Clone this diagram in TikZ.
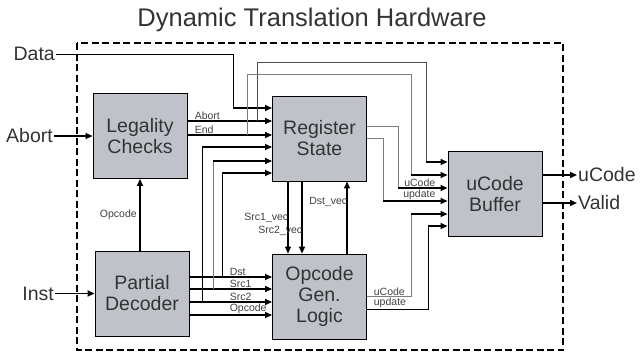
\documentclass[tikz,border=0pt]{standalone}
\usepackage{fontspec}
\setmainfont{Liberation Sans}
\usetikzlibrary{arrows.meta}
\definecolor{boxgray}{RGB}{192,194,201}
\definecolor{wiregray}{RGB}{125,125,125}
\definecolor{wiredark}{RGB}{75,75,75}

\begin{document}
\begin{tikzpicture}[x=1pt, y=-1pt,
    box/.style={draw, line width=0.9pt, fill=boxgray, minimum width=94pt, minimum height=85pt, align=center, text=black!80, font=\fontsize{19.5}{21}\selectfont},
    io/.style={font=\fontsize{19.5}{21}\selectfont, text=black!80, inner sep=1pt},
    lab/.style={font=\fontsize{10.5}{12}\selectfont, text=black!75, inner sep=0.5pt},
    bus/.style={-{Triangle[length=7pt,width=6pt]}, line width=1.6pt},
    wire/.style={line width=0.9pt}]
    \useasboundingbox (0,0) rectangle (641,354);
    \node[font=\fontsize{25.5}{28}\selectfont, text=black!80, anchor=base] (title) at (312,26) {Dynamic Translation Hardware};
    \draw[line width=2pt, dash pattern=on 7pt off 3.5pt] (77,43) rectangle (563,350);

    % blocks
    \node[box] (legal) at (140,136) {Legality\\Checks};
    \node[box] (regs) at (319.5,138.5) {Register\\State};
    \node[box] (decoder) at (142,293.5) {Partial\\Decoder};
    \node[box] (opgen) at (319.5,296.5) {Opcode\\Gen.\\Logic};
    \node[box] (buffer) at (495,194) {uCode\\Buffer};

    % outside signals
    \node[io, anchor=east] (data) at (56,54) {Data};
    \node[io, anchor=east] (abortin) at (54,136) {Abort};
    \node[io, anchor=east] (inst) at (55,293.5) {Inst};
    \node[io, anchor=west] (ucodeout) at (577,175) {uCode};
    \node[io, anchor=west] (validout) at (577,203) {Valid};

    \coordinate (datadrop) at (233,108);
    \draw[wire] (data) -| (datadrop);
    \draw[bus] (datadrop) -- (datadrop -| regs.west);
    \draw[bus] (abortin) -- (legal);
    \draw[bus] (inst) -- (decoder);
    \draw[bus] ([yshift=19pt]buffer.east) -- (ucodeout);
    \draw[bus] ([yshift=-9pt]buffer.east) -- (validout);

    % legality checks -> register state
    \draw[bus] ([yshift=15pt]legal.east) coordinate (abortL) -- (abortL -| regs.west)
        node[lab, pos=0, anchor=south west, xshift=6pt] {Abort};
    \draw[bus] ([yshift=1pt]legal.east) coordinate (endL) -- (endL -| regs.west)
        node[lab, pos=0, anchor=south west, xshift=6pt] {End};

    % abort / end -> ucode buffer
    \coordinate (abortdrop) at (426,162);
    \coordinate (enddrop) at (411,175);
    \draw[wire, wiredark] (257,121) |- (426,62) -- (abortdrop);
    \draw[bus] (abortdrop) -- (abortdrop -| buffer.west);
    \draw[wire, wiregray] (247,135) |- (411,74) -- (enddrop);
    \draw[bus] (enddrop) -- (enddrop -| buffer.west);

    % register state -> ucode buffer
    \draw[wire, wiregray] ([yshift=12.5pt]regs.east) -| (398,188) coordinate (rsucode);
    \draw[bus] (rsucode) -- (rsucode -| buffer.west)
        node[lab, pos=0, anchor=south west, xshift=5pt] {uCode};
    \draw[wire, wiregray] (regs.east) -| (383,201) coordinate (rsupdate);
    \draw[bus] (rsupdate) -- (rsupdate -| buffer.west)
        node[lab, pos=0, anchor=south west, xshift=19pt] {update};

    % opcode gen. logic -> ucode buffer
    \draw[wire, wiregray] (opgen.east) -| (411,214) coordinate (ogucode)
        node[lab, pos=0, anchor=south west, xshift=6pt] {uCode};
    \draw[bus] (ogucode) -- (ogucode -| buffer.west);
    \draw[wire] ([yshift=-12.5pt]opgen.east) -| (428,226) coordinate (ogupdate)
        node[lab, pos=0, anchor=south west, xshift=6pt] {update};
    \draw[bus] (ogupdate) -- (ogupdate -| buffer.west);

    % partial decoder -> opcode gen. logic
    \draw[bus] ([yshift=16.5pt]decoder.east) coordinate (dstL) -- (dstL -| opgen.west)
        node[lab, pos=0, anchor=south west, xshift=39pt] {Dst};
    \draw[bus] ([yshift=4.5pt]decoder.east) coordinate (src1L) -- (src1L -| opgen.west)
        node[lab, pos=0, anchor=south west, xshift=39pt] {Src1};
    \draw[bus] ([yshift=-8.5pt]decoder.east) coordinate (src2L) -- (src2L -| opgen.west)
        node[lab, pos=0, anchor=south west, xshift=39pt] {Src2};
    \draw[bus] ([yshift=-21.5pt]decoder.east) coordinate (opL) -- (opL -| opgen.west)
        node[lab, pos=0, anchor=south west, xshift=39pt] {Opcode};

    % decoder fields -> register state
    \coordinate (dstrise) at (222,173);
    \coordinate (src1rise) at (213,161);
    \coordinate (src2rise) at (202,147);
    \draw[wire] (222,277) -- (dstrise);
    \draw[bus] (dstrise) -- (dstrise -| regs.west);
    \draw[wire, wiregray] (213,289) -- (src1rise);
    \draw[bus] (src1rise) -- (src1rise -| regs.west);
    \draw[wire] (202,302) -- (src2rise);
    \draw[bus] (src2rise) -- (src2rise -| regs.west);

    % register state <-> opcode gen. logic
    \draw[bus] ([xshift=-31.5pt]regs.south) coordinate (s1top) -- (s1top |- opgen.north)
        node[lab, pos=0.5, anchor=east, xshift=1.5pt] {Src1\_vec};
    \draw[bus] ([xshift=-17.5pt]regs.south) coordinate (s2top) -- (s2top |- opgen.north)
        node[lab, pos=0.685, anchor=east, xshift=1.5pt] {Src2\_vec};
    \draw[bus] ([xshift=27.5pt]opgen.north) coordinate (dvbot) -- (dvbot |- regs.south)
        node[lab, pos=0.71, anchor=east, xshift=1.5pt] {Dst\_vec};

    % decoder -> legality checks
    \draw[bus] (decoder.north -| legal.south) -- (legal.south)
        node[lab, midway, anchor=east, xshift=-2pt] {Opcode};
\end{tikzpicture}
\end{document}
